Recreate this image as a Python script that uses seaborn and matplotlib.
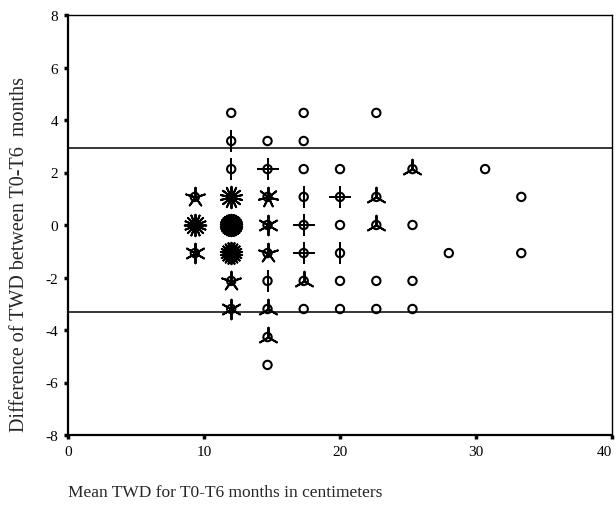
import matplotlib
matplotlib.use("Agg")
import matplotlib.pyplot as plt
import seaborn as sns
import pandas as pd
from matplotlib.markers import MarkerStyle

# ---- data (sunflower plot: each point has a count of cases) ----
mean_twd = [9.33, 9.33, 9.33,
            12, 12, 12, 12, 12, 12, 12, 12,
            14.67, 14.67, 14.67, 14.67, 14.67, 14.67, 14.67, 14.67, 14.67,
            17.33, 17.33, 17.33, 17.33, 17.33, 17.33, 17.33, 17.33,
            20, 20, 20, 20, 20, 20,
            22.67, 22.67, 22.67, 22.67, 22.67,
            25.33, 25.33, 25.33, 25.33,
            28, 30.67, 33.33, 33.33]
diff_twd = [1.07, 0, -1.07,
            4.27, 3.2, 2.13, 1.07, 0, -1.07, -2.13, -3.2,
            3.2, 2.13, 1.07, 0, -1.07, -2.13, -3.2, -4.27, -5.33,
            4.27, 3.2, 2.13, 1.07, 0, -1.07, -2.13, -3.2,
            2.13, 1.07, 0, -1.07, -2.13, -3.2,
            4.27, 1.07, 0, -2.13, -3.2,
            2.13, 0, -2.13, -3.2,
            -1.07, 2.13, 1.07, -1.07]
counts = [5, 16, 6,
          1, 2, 2, 14, 30, 22, 5, 6,
          1, 4, 7, 6, 5, 2, 3, 3, 1,
          1, 1, 1, 2, 4, 4, 3, 1,
          1, 4, 1, 2, 1, 1,
          1, 3, 3, 1, 1,
          3, 1, 1, 1,
          1, 1, 1, 1]
upper_loa = 2.93
lower_loa = -3.30
x_ticks = [0, 10, 20, 30, 40]
y_ticks = [-8, -6, -4, -2, 0, 2, 4, 6, 8]
x_label = "Mean TWD for T0-T6 months in centimeters"
y_label = "Difference of TWD between T0-T6  months"

df = pd.DataFrame({"mean": mean_twd, "diff": diff_twd, "n": counts})

sns.set_style("ticks")
plt.rcParams["font.family"] = ["Liberation Serif", "DejaVu Serif"]
plt.rcParams["axes.unicode_minus"] = False

fig = plt.figure(figsize=(6.16, 5.06), dpi=100)
ax = fig.add_axes([68 / 616, 1 - 436 / 506, (612 - 68) / 616, (436 - 16) / 506])

# petals (one line per case) for points with more than one case
for n in sorted(df["n"].unique()):
    if n < 2:
        continue
    sub = df[df["n"] == n]
    sns.scatterplot(data=sub, x="mean", y="diff", ax=ax,
                    marker=MarkerStyle((int(n), 2, 0)), s=200 if n < 10 else 240,
                    color="black", linewidth=1.4, legend=False, zorder=3)

# centre circles
sns.scatterplot(data=df, x="mean", y="diff", ax=ax, marker="o", s=36,
                facecolor="none", edgecolor="black", linewidth=1.5,
                legend=False, zorder=4)

ax.axhline(upper_loa, color="black", linewidth=1.1, zorder=2)
ax.axhline(lower_loa, color="black", linewidth=1.1, zorder=2)

ax.set_xlim(0, 40)
ax.set_ylim(-8, 8)
ax.set_xticks(x_ticks)
ax.set_yticks(y_ticks)
ax.set_xticklabels([str(t) for t in x_ticks], fontsize=11)
ax.set_yticklabels([str(t) for t in y_ticks], fontsize=11)
ax.set_xlabel("")
ax.set_ylabel("")
ax.tick_params(axis="both", direction="out", length=3, width=2.5,
               pad=4, colors="black")
for side in ["left", "bottom"]:
    ax.spines[side].set_linewidth(1.6)
for side in ["top", "right"]:
    ax.spines[side].set_visible(True)
    ax.spines[side].set_linewidth(1.0)
for sp in ax.spines.values():
    sp.set_color("black")

# keep the last x tick label inside the figure
ax.get_xticklabels()[-1].set_horizontalalignment("right")

fig.text(68 / 616, 1 - 493 / 506, x_label, ha="left", va="center", fontsize=12.5)
fig.text(20 / 616, 1 - 255 / 506, y_label, ha="center", va="center",
         rotation=90, fontsize=14.5)

fig.savefig("out.png", dpi=100)
